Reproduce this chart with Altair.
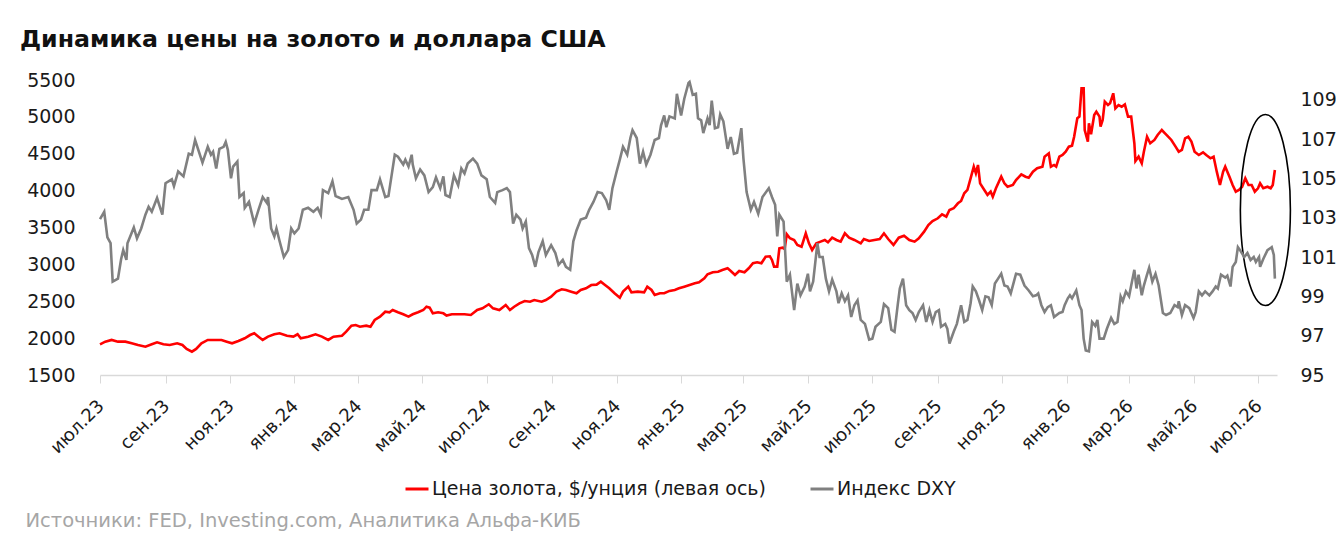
import altair as alt
import pandas as pd

TITLE = "Динамика цены на золото и доллара США"
SOURCE = "Источники: FED, Investing.com, Аналитика Альфа-КИБ"
GOLD = "Цена золота, $/унция (левая ось)"
DXY = "Индекс DXY"
BASE_DATE = "2023-07-01"
END_DATE = "2026-07-19"
MONTHS_RU = ["янв", "фев", "мар", "апр", "май", "июн", "июл", "авг", "сен", "окт", "ноя", "дек"]
TICK_MONTHS = [(2023, 7), (2023, 9), (2023, 11), (2024, 1), (2024, 3), (2024, 5), (2024, 7),
               (2024, 9), (2024, 11), (2025, 1), (2025, 3), (2025, 5), (2025, 7), (2025, 9),
               (2025, 11), (2026, 1), (2026, 3), (2026, 5), (2026, 7)]
GOLD_TICKS = [1500, 2000, 2500, 3000, 3500, 4000, 4500, 5000, 5500]
DXY_TICKS = [95, 97, 99, 101, 103, 105, 107, 109]

# days since BASE_DATE, gold price ($/oz)
gold_day = [0, 5, 11, 17, 24, 30, 36, 43, 49, 54,
            60, 66, 73, 78, 82, 87, 91, 96, 102, 109,
            115, 120, 125, 131, 137, 142, 146, 150, 154, 159,
            165, 170, 177, 183, 187, 190, 197, 204, 210, 216,
            221, 229, 233, 238, 242, 246, 252, 256, 260, 265,
            270, 274, 277, 282, 287, 292, 296, 301, 306, 309,
            312, 315, 320, 325, 328, 333, 339, 345, 351, 357,
            362, 368, 372, 378, 384, 388, 392, 397, 402, 407,
            411, 418, 422, 427, 432, 437, 441, 446, 451, 455,
            460, 465, 470, 474, 478, 482, 487, 492, 495, 500,
            503, 509, 515, 518, 522, 525, 530, 534, 539, 544,
            548, 553, 558, 563, 567, 572, 575, 580, 585, 589,
            594, 597, 601, 605, 610, 614, 618, 622, 626, 630,
            634, 636, 638, 641, 643, 646, 648, 650, 653, 657,
            660, 664, 668, 671, 674, 678, 682, 686, 689, 693,
            697, 701, 705, 709, 714, 720, 723, 728, 733, 738,
            742, 746, 751, 756, 761, 766, 771, 775, 780, 784,
            788, 793, 797, 801, 804, 808, 812, 815, 818, 821,
            824, 827, 829, 831, 833, 837, 840, 843, 845, 848,
            853, 856, 859, 864, 867, 872, 876, 879, 883, 887,
            892, 894, 898, 900, 903, 905, 908, 911, 914, 917,
            920, 922, 925, 927, 929, 931, 932, 935, 936, 938,
            941, 943, 946, 947, 949, 951, 954, 956, 959, 961,
            964, 967, 970, 973, 976, 979, 980, 983, 986, 988,
            991, 994, 998, 1001, 1005, 1008, 1011, 1014, 1018, 1021,
            1024, 1027, 1030, 1033, 1036, 1040, 1044, 1047, 1051, 1054,
            1057, 1060, 1063, 1065, 1069, 1072, 1075, 1078, 1081, 1084,
            1087, 1090, 1093, 1096, 1098, 1101, 1105, 1108, 1110, 1112]
gold_val = [1916, 1952, 1975, 1952, 1952, 1930, 1907, 1884, 1916, 1943,
            1916, 1907, 1930, 1907, 1853, 1816, 1853, 1930, 1975, 1975,
            1975, 1952, 1930, 1961, 1998, 2042, 2065, 2020, 1975, 2020,
            2052, 2065, 2033, 2020, 2052, 1998, 2020, 2052, 2020, 1975,
            2020, 2033, 2087, 2169, 2178, 2155, 2169, 2155, 2246, 2291,
            2358, 2350, 2381, 2350, 2323, 2291, 2323, 2350, 2381, 2426,
            2413, 2336, 2350, 2336, 2305, 2323, 2323, 2323, 2314, 2381,
            2404, 2459, 2404, 2381, 2449, 2381, 2426, 2472, 2503, 2494,
            2517, 2494, 2517, 2562, 2630, 2662, 2653, 2630, 2608, 2653,
            2675, 2720, 2725, 2765, 2720, 2675, 2608, 2548, 2630, 2698,
            2620, 2630, 2620, 2698, 2653, 2585, 2608, 2608, 2640, 2653,
            2675, 2698, 2720, 2743, 2757, 2811, 2866, 2893, 2901, 2924,
            2947, 2911, 2856, 2910, 2893, 2947, 3015, 3028, 3015, 3104,
            3110, 3060, 2969, 2969, 3218, 3227, 3209, 3408, 3354, 3331,
            3263, 3240, 3421, 3286, 3195, 3286, 3308, 3331, 3299, 3362,
            3331, 3308, 3421, 3362, 3331, 3286, 3344, 3317, 3331, 3344,
            3421, 3344, 3263, 3362, 3389, 3331, 3308, 3354, 3444, 3534,
            3588, 3625, 3679, 3648, 3737, 3761, 3828, 3859, 3964, 4009,
            4167, 4325, 4235, 4348, 4099, 4009, 3941, 3986, 3918, 4032,
            4189, 4099, 4053, 4076, 4144, 4221, 4189, 4175, 4257, 4303,
            4325, 4461, 4506, 4325, 4348, 4325, 4461, 4483, 4528, 4596,
            4610, 4731, 4981, 5003, 5388, 5388, 4822, 4664, 4913, 4764,
            5026, 5071, 5003, 4867, 4958, 5206, 5161, 5184, 5320, 5116,
            5161, 5138, 5170, 5003, 5003, 4642, 4402, 4461, 4371, 4528,
            4731, 4642, 4687, 4754, 4822, 4777, 4731, 4687, 4596, 4528,
            4551, 4709, 4731, 4664, 4528, 4483, 4519, 4483, 4438, 4461,
            4257, 4076, 4257, 4325, 4189, 4076, 3986, 4009, 4053, 4167,
            4076, 4076, 3986, 4032, 4099, 4032, 4053, 4032, 4076, 4280]

# days since BASE_DATE, DXY index
dxy_day = [0, 4, 7, 10, 12, 17, 20, 22, 25, 26,
           32, 35, 39, 43, 46, 49, 54, 59, 62, 68,
           70, 74, 79, 84, 87, 90, 97, 102, 105, 107,
           110, 113, 117, 119, 121, 124, 126, 130, 132, 136,
           137, 141, 146, 150, 154, 158, 159, 162, 165, 167,
           170, 174, 178, 181, 184, 188, 192, 197, 202, 206,
           209, 211, 216, 220, 223, 229, 235, 240, 243, 247,
           250, 254, 257, 262, 265, 270, 273, 276, 279, 282,
           287, 289, 292, 295, 296, 299, 303, 307, 311, 315,
           318, 322, 325, 327, 331, 335, 339, 342, 345, 348,
           353, 357, 361, 366, 369, 374, 376, 381, 385, 388,
           391, 394, 398, 400, 403, 406, 409, 412, 415, 419,
           422, 427, 431, 434, 438, 441, 445, 448, 451, 455,
           460, 463, 467, 471, 475, 479, 482, 485, 489, 492,
           495, 499, 502, 504, 508, 511, 514, 517, 521, 525,
           529, 531, 534, 536, 539, 544, 546, 550, 553, 557,
           558, 561, 564, 566, 569, 571, 575, 577, 579, 582,
           585, 587, 590, 594, 597, 600, 603, 607, 609, 612,
           616, 619, 623, 627, 633, 636, 639, 641, 643, 647,
           650, 653, 657, 660, 663, 667, 670, 672, 675, 679,
           681, 684, 687, 690, 693, 697, 699, 702, 705, 708,
           711, 714, 717, 720, 724, 728, 731, 734, 739, 742,
           746, 749, 752, 755, 757, 760, 763, 766, 769, 772,
           775, 779, 782, 785, 788, 791, 794, 796, 800, 802,
           804, 808, 811, 815, 818, 821, 824, 826, 829, 832,
           835, 838, 841, 844, 847, 850, 853, 856, 859, 862,
           865, 867, 871, 875, 879, 883, 886, 888, 891, 894,
           897, 900, 903, 908, 911, 913, 916, 918, 920, 924,
           927, 929, 931, 933, 936, 939, 942, 944, 946, 950,
           953, 957, 960, 963, 966, 968, 971, 974, 976, 979,
           981, 983, 986, 988, 991, 993, 996, 999, 1002, 1006,
           1009, 1013, 1017, 1020, 1021, 1024, 1027, 1031, 1035, 1037,
           1040, 1043, 1046, 1050, 1053, 1056, 1058, 1061, 1065, 1067,
           1070, 1072, 1075, 1077, 1079, 1083, 1086, 1089, 1092, 1094,
           1097, 1098, 1101, 1105, 1109, 1111, 1112]
dxy_val = [102.93, 103.3, 102.0, 101.7, 99.75, 99.9, 100.9, 101.35, 100.85, 101.7,
           102.5, 101.95, 102.45, 103.15, 103.55, 103.3, 104.0, 103.15, 104.75, 104.95,
           104.6, 105.35, 105.1, 106.25, 106.2, 106.95, 105.8, 106.6, 106.2, 106.35,
           105.5, 106.5, 106.6, 106.85, 106.45, 105.0, 105.6, 105.85, 104.05, 104.25,
           103.5, 103.8, 102.7, 103.4, 104.05, 103.75, 104.05, 102.45, 102.05, 102.45,
           101.8, 101.0, 101.35, 102.45, 102.2, 102.45, 103.4, 103.5, 103.3, 103.5,
           103.15, 104.4, 104.25, 104.85, 104.1, 103.95, 104.05, 103.4, 102.7, 102.9,
           103.4, 103.4, 104.4, 104.4, 104.95, 104.05, 104.1, 105.15, 106.2, 106.1,
           105.7, 105.95, 105.6, 106.2, 105.7, 105.0, 105.45, 105.15, 104.3, 104.55,
           105.05, 104.5, 105.1, 104.15, 104.05, 105.15, 104.65, 105.5, 105.25, 105.75,
           106.0, 105.75, 105.15, 104.95, 104.05, 103.75, 104.3, 104.4, 104.5, 104.3,
           102.7, 103.15, 102.9, 102.45, 102.8, 101.45, 101.1, 100.5, 101.25, 101.8,
           101.1, 101.6, 101.2, 100.6, 100.85, 100.5, 100.35, 101.8, 102.35, 102.9,
           103.0, 103.4, 103.8, 104.3, 104.25, 103.9, 103.4, 104.5, 105.35, 105.95,
           106.6, 106.2, 107.05, 107.45, 107.05, 105.75, 106.35, 105.7, 106.2, 106.95,
           107.05, 107.7, 108.2, 107.6, 108.15, 108.05, 109.3, 108.2, 109.05, 109.85,
           109.9, 109.25, 109.3, 108.05, 107.95, 107.3, 108.05, 107.7, 108.95, 107.55,
           107.6, 108.25, 107.9, 106.5, 107.1, 106.25, 106.3, 107.55, 106.0, 104.3,
           103.4, 103.8, 103.2, 104.05, 104.5, 104.05, 103.65, 102.05, 103.15, 102.8,
           99.75, 100.1, 98.3, 99.65, 99.05, 99.5, 100.15, 99.25, 99.75, 101.7,
           101.0, 101.0, 99.9, 99.25, 99.85, 99.25, 98.65, 99.15, 98.75, 99.05,
           97.95, 98.55, 98.8, 97.8, 97.6, 96.8, 96.85, 97.45, 97.7, 98.6,
           98.4, 97.3, 97.2, 98.55, 99.4, 99.9, 98.55, 98.3, 98.15, 97.8,
           98.2, 98.55, 97.7, 98.3, 97.7, 98.2, 98.3, 97.45, 97.6, 97.35,
           96.6, 97.2, 97.6, 98.55, 97.7, 97.8, 98.65, 99.5, 99.25, 98.8,
           98.3, 99.0, 98.95, 98.55, 99.65, 99.9, 100.15, 99.55, 99.5, 99.15,
           99.75, 100.15, 100.1, 99.55, 99.3, 99.0, 99.05, 99.15, 98.55, 98.2,
           98.45, 98.55, 97.95, 98.15, 98.2, 98.55, 98.9, 99.05, 98.9, 99.3,
           98.55, 98.3, 96.85, 96.25, 96.2, 97.7, 97.5, 97.8, 96.85, 96.85,
           97.35, 97.9, 97.6, 97.7, 99.0, 98.75, 99.25, 99.0, 99.55, 100.35,
           99.4, 100.1, 99.05, 99.55, 100.1, 100.45, 99.75, 100.15, 99.55, 98.15,
           98.05, 98.15, 98.55, 98.45, 98.75, 98.05, 98.55, 98.4, 97.9, 98.2,
           99.25, 99.05, 99.25, 99.05, 99.25, 99.5, 99.4, 100.1, 99.95, 100.05,
           99.5, 100.5, 100.75, 101.5, 101.35, 101.0, 101.2, 100.85, 101.0, 100.75,
           101.0, 100.5, 100.9, 101.35, 101.5, 101.1, 99.9]

# annotation ellipse (centre in data coordinates, gold axis)
ELLIPSE_DATE = ["2026-07-08"]
ELLIPSE_VALUE = [3737]
ELLIPSE_PATH = ("M0,-1C0.1447,-1,0.262,-0.5523,0.262,0C0.262,0.5523,0.1447,1,0,1"
                "C-0.1447,1,-0.262,0.5523,-0.262,0C-0.262,-0.5523,-0.1447,-1,0,-1Z")

base = pd.Timestamp(BASE_DATE)
gold_df = pd.DataFrame({"date": base + pd.to_timedelta(gold_day, unit="D"),
                        "value": gold_val, "series": GOLD})
dxy_df = pd.DataFrame({"date": base + pd.to_timedelta(dxy_day, unit="D"),
                       "value": dxy_val, "series": DXY})
ell_df = pd.DataFrame({"date": pd.to_datetime(ELLIPSE_DATE), "value": ELLIPSE_VALUE})

FONT = "DejaVu Sans"
month_arr = "[" + ",".join("'%s'" % m for m in MONTHS_RU) + "]"
label_expr = month_arr + "[month(datum.value)] + '.' + timeFormat(datum.value, '%y')"

end = pd.Timestamp(END_DATE)
x_scale = alt.Scale(domain=[alt.DateTime(year=2023, month=7, date=1),
                            alt.DateTime(year=end.year, month=end.month, date=end.day)])
x_axis = alt.Axis(
    values=[alt.DateTime(year=y, month=m, date=1) for (y, m) in TICK_MONTHS],
    tickCount=len(TICK_MONTHS),
    labelExpr=label_expr, labelAngle=-45, labelAlign="right", labelBaseline="middle",
    labelFontSize=18, labelColor="#1a1a1a", labelFont=FONT, labelPadding=20,
    labelOffset=1, labelOverlap=False,
    tickSize=8, tickColor="#d9d9d9", domainColor="#d9d9d9", domainWidth=1.5, grid=False,
    title=SOURCE, titleX=-75, titleY=145, titleAlign="left", titleAnchor="start",
    titleBaseline="middle", titleFontSize=19.5, titleFontWeight="normal",
    titleColor="#a6a6a6", titleFont=FONT,
)

color = alt.Color("series:N",
                  scale=alt.Scale(domain=[GOLD, DXY], range=["#ff0000", "#808080"]),
                  legend=alt.Legend(title=None, orient="none", direction="horizontal",
                                    legendX=304, legendY=396, symbolType="stroke",
                                    symbolSize=529, symbolStrokeWidth=3,
                                    labelFontSize=19, labelFont=FONT, labelColor="#1a1a1a",
                                    labelOffset=2, columnPadding=38, labelLimit=500))

gold_line = alt.Chart(gold_df).mark_line(strokeWidth=2.6).encode(
    x=alt.X("date:T", scale=x_scale, axis=x_axis),
    y=alt.Y("value:Q", scale=alt.Scale(domain=[1500, 5500], nice=False, zero=False),
            axis=alt.Axis(values=GOLD_TICKS, tickCount=len(GOLD_TICKS), format="d",
                          labelOverlap=False, title=None,
                          grid=False, domain=False, ticks=False,
                          labelPadding=25, labelFontSize=19, labelColor="#1a1a1a",
                          labelFont=FONT)),
    color=color,
)

ellipse = alt.Chart(ell_df).mark_point(
    shape=ELLIPSE_PATH, size=36481, filled=False, color="black", strokeWidth=1.6, opacity=1
).encode(
    x=alt.X("date:T"),
    y=alt.Y("value:Q"),
)

dxy_line = alt.Chart(dxy_df).mark_line(strokeWidth=2.6).encode(
    x=alt.X("date:T"),
    y=alt.Y("value:Q", scale=alt.Scale(domain=[95, 110], nice=False, zero=False),
            axis=alt.Axis(orient="right", values=DXY_TICKS, tickCount=len(DXY_TICKS),
                          format="d", labelOverlap=False,
                          title=None, grid=False,
                          domain=False, ticks=False, labelPadding=23, labelFontSize=19,
                          labelColor="#1a1a1a", labelFont=FONT)),
    color=color,
)

left_layer = alt.layer(gold_line, ellipse)

chart = alt.layer(left_layer, dxy_line).resolve_scale(y="independent").properties(
    width=1177, height=295,
    padding={"left": 92, "top": 72, "right": 59, "bottom": 159},
    autosize=alt.AutoSizeParams(type="none"),
    title=alt.TitleParams(TITLE, anchor="start", frame="group", dx=-80, offset=19,
                          fontSize=23.7, fontWeight="bold", color="#111111", font=FONT),
).configure_view(stroke=None)

chart.save("out.html", embed_options={"renderer": "svg", "actions": False})
